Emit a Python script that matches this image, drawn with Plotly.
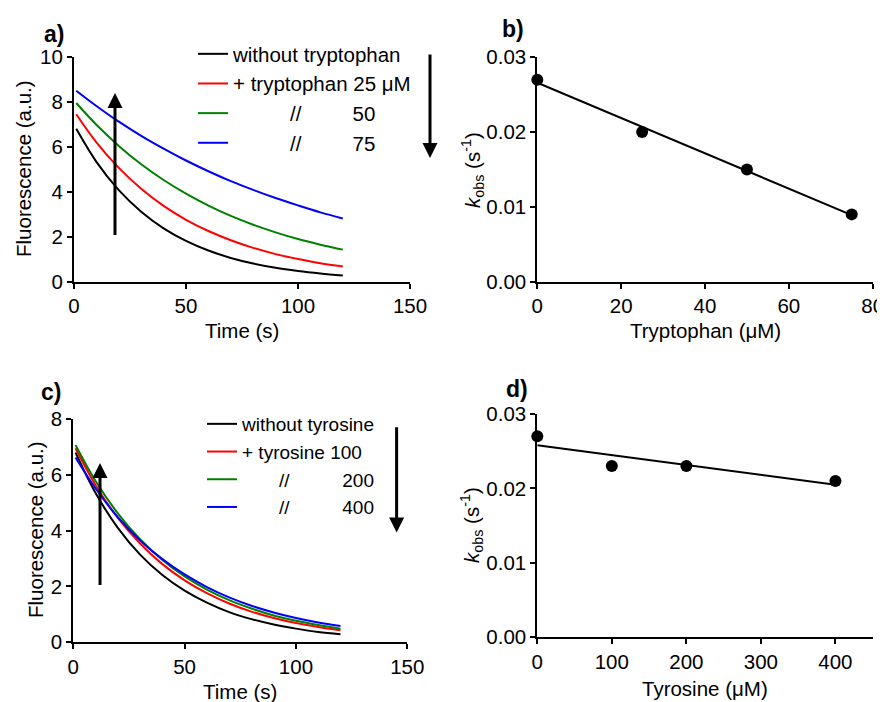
import plotly.graph_objects as go

# ---------------- data ----------------
time_s = [1, 10, 20, 30, 40, 50, 60, 70, 80, 90, 100, 110, 120]

# panel a: fluorescence decay with tryptophan
trp_none = [6.80, 5.33, 4.07, 3.11, 2.37, 1.81, 1.38, 1.05, 0.80, 0.61, 0.47, 0.36, 0.27]
trp_25 = [7.45, 6.20, 5.06, 4.13, 3.37, 2.75, 2.25, 1.84, 1.50, 1.22, 1.00, 0.81, 0.67]
trp_50 = [7.95, 6.98, 6.04, 5.22, 4.52, 3.91, 3.38, 2.92, 2.53, 2.19, 1.89, 1.64, 1.42]
trp_75 = [8.50, 7.82, 7.12, 6.49, 5.92, 5.39, 4.91, 4.47, 4.08, 3.72, 3.39, 3.08, 2.81]

# panel c: fluorescence decay with tyrosine
tyr_none = [6.80, 5.35, 4.10, 3.14, 2.41, 1.85, 1.42, 1.08, 0.83, 0.64, 0.49, 0.37, 0.29]
tyr_100 = [6.95, 5.63, 4.46, 3.54, 2.80, 2.22, 1.76, 1.39, 1.10, 0.87, 0.69, 0.55, 0.43]
tyr_200 = [7.07, 5.78, 4.62, 3.69, 2.95, 2.36, 1.89, 1.51, 1.21, 0.96, 0.77, 0.62, 0.49]
tyr_400 = [6.62, 5.51, 4.48, 3.65, 2.98, 2.43, 1.98, 1.61, 1.31, 1.07, 0.87, 0.71, 0.58]

# panel b: kobs vs tryptophan
trp_conc = [0, 25, 50, 75]
trp_kobs = [0.027, 0.020, 0.015, 0.009]
trp_fit_x = [0, 75]
trp_fit_y = [0.0266, 0.0089]

# panel d: kobs vs tyrosine
tyr_conc = [0, 100, 200, 400]
tyr_kobs = [0.027, 0.023, 0.023, 0.021]
tyr_fit_x = [0, 400]
tyr_fit_y = [0.0258, 0.0205]

NB = "\u00a0"
trp_names = ["without tryptophan", "+ tryptophan 25 \u03bcM",
             NB * 10 + "//" + NB * 9 + "50", NB * 10 + "//" + NB * 9 + "75"]
tyr_names = ["without tyrosine", "+ tyrosine 100",
             NB * 7 + "//" + NB * 10 + "200", NB * 7 + "//" + NB * 10 + "400"]
colors = ["#000000", "#ff0000", "#008000", "#0000ff"]

FONT = "Liberation Sans, Arial, sans-serif"
W, H = 885, 702
OFF = 8  # page body margin offset of the figure div


def X(px):
    return (px - OFF) / W


def Y(px):
    return 1 - (px - OFF) / H


fig = go.Figure()

for ys, name, col in zip([trp_none, trp_25, trp_50, trp_75], trp_names, colors):
    fig.add_trace(go.Scatter(x=time_s, y=ys, mode="lines", name=name,
                             line=dict(color=col, width=2, shape="spline"),
                             xaxis="x", yaxis="y", legend="legend"))

fig.add_trace(go.Scatter(x=trp_fit_x, y=trp_fit_y, mode="lines", showlegend=False,
                         line=dict(color="black", width=2), xaxis="x2", yaxis="y2"))
fig.add_trace(go.Scatter(x=trp_conc, y=trp_kobs, mode="markers", showlegend=False,
                         marker=dict(color="black", size=12), cliponaxis=False,
                         xaxis="x2", yaxis="y2"))

for ys, name, col in zip([tyr_none, tyr_100, tyr_200, tyr_400], tyr_names, colors):
    fig.add_trace(go.Scatter(x=time_s, y=ys, mode="lines", name=name,
                             line=dict(color=col, width=2, shape="spline"),
                             xaxis="x3", yaxis="y3", legend="legend2"))

fig.add_trace(go.Scatter(x=tyr_fit_x, y=tyr_fit_y, mode="lines", showlegend=False,
                         line=dict(color="black", width=2), xaxis="x4", yaxis="y4"))
fig.add_trace(go.Scatter(x=tyr_conc, y=tyr_kobs, mode="markers", showlegend=False,
                         marker=dict(color="black", size=12), cliponaxis=False,
                         xaxis="x4", yaxis="y4"))

axis_common = dict(showline=True, linecolor="black", linewidth=2, ticks="outside",
                   ticklen=5, tickwidth=2, tickcolor="black", showgrid=False,
                   zeroline=False, automargin=False,
                   tickfont=dict(size=20.5, color="black", family=FONT))

fig.update_layout(
    width=W, height=H,
    margin=dict(l=0, r=0, t=0, b=0, autoexpand=False),
    paper_bgcolor="white", plot_bgcolor="white",
    font=dict(family=FONT, size=20, color="black"),
    xaxis=dict(domain=[X(74), X(410)], range=[0, 150], tickvals=[0, 50, 100, 150],
               anchor="y", **axis_common),
    yaxis=dict(domain=[Y(281.5), Y(57)], range=[0, 10], tickvals=[0, 2, 4, 6, 8, 10],
               anchor="x", **axis_common),
    xaxis2=dict(domain=[X(537.3), X(872.7)], range=[0, 80],
                tickvals=[0, 20, 40, 60, 80], anchor="y2", **axis_common),
    yaxis2=dict(domain=[Y(281.7), Y(57.3)], range=[0, 0.03],
                tickvals=[0, 0.01, 0.02, 0.03], tickformat=".2f",
                anchor="x2", **axis_common),
    xaxis3=dict(domain=[X(73.3), X(407.3)], range=[0, 150],
                tickvals=[0, 50, 100, 150], anchor="y3", **axis_common),
    yaxis3=dict(domain=[Y(642.3), Y(419)], range=[0, 8], tickvals=[0, 2, 4, 6, 8],
                anchor="x3", **axis_common),
    xaxis4=dict(domain=[X(537.3), X(872.7)], range=[0, 450],
                tickvals=[0, 100, 200, 300, 400], anchor="y4", **axis_common),
    yaxis4=dict(domain=[Y(637.3), Y(414)], range=[0, 0.03],
                tickvals=[0, 0.01, 0.02, 0.03], tickformat=".2f",
                anchor="x4", **axis_common),
    legend=dict(x=X(193), y=Y(34), xanchor="left", yanchor="top",
                bgcolor="rgba(0,0,0,0)", borderwidth=0, itemwidth=30,
                font=dict(size=20.5, family=FONT, color="black")),
    legend2=dict(x=X(202), y=Y(405), xanchor="left", yanchor="top",
                 bgcolor="rgba(0,0,0,0)", borderwidth=0, itemwidth=30,
                 font=dict(size=19, family=FONT, color="black")),
)

ann = []
# axis titles
titles = [
    ("Time (s)", 242, 330, 0),
    ("Tryptophan (\u03bcM)", 705, 330, 0),
    ("Time (s)", 240.3, 691, 0),
    ("Tyrosine (\u03bcM)", 705, 688, 0),
    ("Fluorescence (a.u.)", 23, 169, -90),
    ("<i>k</i><sub>obs</sub> (s<sup>-1</sup>)", 472, 170, -90),
    ("Fluorescence (a.u.)", 35, 530, -90),
    ("<i>k</i><sub>obs</sub> (s<sup>-1</sup>)", 471, 525, -90),
]
for txt, x, y, rot in titles:
    ann.append(dict(text=txt, x=X(x), y=Y(y), xref="paper", yref="paper",
                    showarrow=False, xanchor="center", yanchor="middle",
                    textangle=rot, font=dict(size=20.5, family=FONT, color="black")))
# panel labels
for txt, x, y in [("a)", 54, 34), ("b)", 513, 29), ("c)", 51, 392), ("d)", 517, 389)]:
    ann.append(dict(text="<b>%s</b>" % txt, x=X(x), y=Y(y), xref="paper",
                    yref="paper", showarrow=False, xanchor="center",
                    yanchor="middle", font=dict(size=23, family=FONT, color="black")))
# arrows (indicating the trend with increasing concentration)
arrows = [
    ("x", "y", 18.3, 8.4, 18.3, 2.0),
    ("x3", "y3", 12.0, 6.42, 12.0, 2.0),
    ("x3", "y3", 145.2, 3.93, 145.2, 7.76),
]
for xr, yr, x, y, ax, ay in arrows:
    ann.append(dict(text="", x=x, y=y, ax=ax, ay=ay, xref=xr, yref=yr, axref=xr,
                    ayref=yr, showarrow=True, arrowhead=2, arrowsize=1,
                    arrowwidth=3, arrowcolor="black", standoff=0))
# down arrow of panel a sits outside its axis range -> paper placement
ann.append(dict(text="", x=X(430), y=Y(158), xref="paper", yref="paper",
                ax=0, ay=-105, axref="pixel", ayref="pixel", showarrow=True,
                arrowhead=2, arrowsize=1, arrowwidth=3, arrowcolor="black",
                standoff=0))
fig.update_layout(annotations=ann)

fig.write_html("out.html")
